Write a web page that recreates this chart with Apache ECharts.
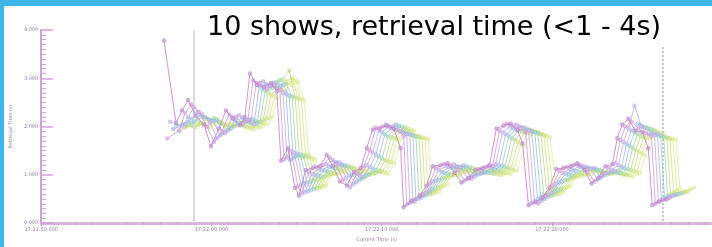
<!DOCTYPE html>
<html>
<head>
<meta charset="utf-8">
<script src="https://cdn.jsdelivr.net/npm/echarts@6/dist/echarts.min.js"></script>
<style>
html,body{margin:0;padding:0;}
#chart{width:712px;height:247px;background:linear-gradient(#fff,#fff) 4px 6px / 708px 241px no-repeat, #3db6ea;}
</style>
</head>
<body>
<div id="chart"></div>
<script>
const titleText = "10 shows, retrieval time (<1 - 4s)";
const xAxisName = "Current Time (s)";
const yAxisName = "Retrieval Time (s)";
const xTickLabels = ["17:21:50.000", "17:22:00.000", "17:22:10.000", "17:22:20.000"];
const yTickLabels = ["0.000", "1.000", "2.000", "3.000", "4.000"];
const markerTimes = [8.97, 36.48];

// base sample times (s) of the leading show
const times = [7.21,7.92,8.27,8.62,9.09,9.56,9.97,10.44,10.85,11.26,11.67,11.96,12.26,12.67,13.08,13.49,13.84,14.08,14.49,14.90,15.13,15.54,15.95,16.36,16.77,17.13,17.54,17.95,18.36,18.77,19.12,19.47,19.88,20.29,20.70,21.11,21.29,21.76,22.23,22.64,22.99,23.46,23.87,24.28,24.69,25.10,25.51,25.92,26.33,26.74,27.16,27.57,27.98,28.27,28.62,29.03,29.44,29.85,30.26,30.67,31.09,31.50,31.91,32.32,32.73,33.14,33.55,33.84,34.13,34.49,34.90,35.31,35.66,35.89,36.30,36.72];
// delay of each show (s)
const lags = [0,0.18,0.36,0.54,0.72,0.90,1.08,1.26,1.44,1.62];

const show1 = [3.78,2.08,2.33,2.55,2.22,2.04,1.59,1.96,2.33,2.16,2.02,2.20,3.10,2.86,2.82,2.90,2.73,1.29,1.55,0.73,0.57,1.10,1.14,1.18,1.41,1.18,0.86,0.78,1.06,1.14,1.55,1.94,1.96,2.02,1.96,1.55,0.33,0.47,0.57,0.78,1.18,1.20,1.24,1.04,0.84,0.94,1.10,1.14,1.20,1.96,2.02,2.06,1.92,1.65,0.37,0.43,0.53,0.73,1.12,1.14,1.18,1.24,1.10,0.82,0.94,1.18,1.22,1.76,2.04,2.16,1.92,1.88,1.55,0.37,0.45,0.49];
const show2 = [1.75,1.92,2.28,2.46,2.30,2.00,1.68,1.90,2.25,2.20,2.06,2.14,2.96,2.90,2.78,2.86,2.76,1.32,1.50,0.76,0.62,1.06,1.16,1.20,1.36,1.22,0.90,0.74,1.02,1.18,1.50,1.98,2.00,1.98,1.94,1.80,0.38,0.44,0.60,0.82,1.14,1.22,1.20,1.10,0.88,0.92,1.12,1.16,1.18,1.92,2.06,2.02,1.96,1.88,0.42,0.40,0.56,0.78,1.08,1.16,1.20,1.20,1.06,0.86,0.98,1.14,1.24,1.72,2.00,2.10,1.96,1.86,1.80,0.40,0.48,0.52];
const show3 = [2.10,2.00,2.20,2.40,2.26,2.08,1.75,1.86,2.18,2.24,2.10,2.08,2.90,2.94,2.84,2.80,2.70,1.36,1.46,0.80,0.64,1.02,1.12,1.22,1.30,1.26,0.94,0.80,0.98,1.20,1.46,1.92,2.04,2.00,1.90,1.84,0.42,0.50,0.62,0.86,1.10,1.18,1.22,1.16,0.92,0.96,1.08,1.18,1.22,1.88,2.00,2.04,1.98,1.92,0.46,0.46,0.58,0.82,1.04,1.12,1.22,1.18,1.12,0.90,1.02,1.10,1.20,1.68,1.96,2.43,2.00,1.84,1.82,0.44,0.50,0.56];
const show4 = [1.95,2.04,2.16,2.30,2.20,2.12,1.82,1.92,2.12,2.18,2.14,2.04,2.84,2.88,2.90,2.84,2.68,1.30,1.44,0.82,0.66,1.00,1.10,1.18,1.26,1.22,0.98,0.84,0.96,1.16,1.42,1.88,2.00,2.04,1.88,1.84,0.46,0.52,0.66,0.88,1.06,1.16,1.18,1.20,0.96,1.00,1.06,1.14,1.20,1.84,1.96,2.00,1.94,1.90,0.50,0.50,0.62,0.84,1.02,1.10,1.18,1.16,1.14,0.94,1.04,1.08,1.16,1.64,1.92,2.06,1.98,1.86,1.84,0.48,0.54,0.58];
const show5 = [2.02,2.10,2.10,2.24,2.16,2.14,1.88,1.96,2.08,2.12,2.16,2.06,2.78,2.84,2.92,2.86,2.64,1.34,1.42,0.84,0.68,0.98,1.08,1.16,1.22,1.20,1.00,0.88,0.98,1.12,1.38,1.84,1.96,2.02,1.86,1.82,0.50,0.56,0.70,0.90,1.04,1.14,1.16,1.18,1.00,1.02,1.04,1.12,1.18,1.80,1.94,1.98,1.92,1.88,0.54,0.54,0.66,0.86,1.00,1.08,1.16,1.14,1.12,0.98,1.06,1.06,1.14,1.60,1.88,2.02,1.96,1.84,1.82,0.52,0.56,0.60];
const show6 = [1.90,2.06,2.14,2.20,2.12,2.10,1.92,2.00,2.04,2.10,2.12,2.10,2.74,2.80,2.96,2.88,2.62,1.38,1.40,0.86,0.70,0.96,1.06,1.14,1.20,1.18,1.02,0.92,1.00,1.10,1.34,1.80,1.94,2.00,1.84,1.80,0.54,0.58,0.72,0.92,1.02,1.12,1.14,1.16,1.02,1.04,1.04,1.10,1.16,1.76,1.92,1.96,1.90,1.86,0.58,0.56,0.68,0.88,0.98,1.06,1.14,1.12,1.10,1.00,1.06,1.04,1.12,1.56,1.84,2.00,1.94,1.82,1.80,0.56,0.58,0.62];
const show7 = [2.06,1.98,2.08,2.16,2.18,2.06,1.96,2.04,2.00,2.06,2.10,2.14,2.70,2.86,2.98,3.16,2.60,1.40,1.38,0.88,0.72,0.96,1.04,1.12,1.18,1.16,1.04,0.96,1.02,1.08,1.30,1.78,1.92,1.98,1.82,1.80,0.58,0.60,0.74,0.94,1.00,1.10,1.12,1.14,1.04,1.06,1.02,1.08,1.14,1.72,1.90,1.94,1.88,1.84,0.62,0.58,0.70,0.90,0.98,1.04,1.12,1.10,1.08,1.02,1.04,1.02,1.10,1.52,1.80,1.98,1.92,1.80,1.78,0.60,0.60,0.64];
const show8 = [1.98,2.02,2.04,2.12,2.14,2.02,2.00,2.08,1.98,2.02,2.08,2.16,2.66,2.82,2.94,3.00,2.58,1.36,1.36,0.90,0.74,0.98,1.02,1.10,1.16,1.14,1.06,1.00,1.04,1.06,1.28,1.76,1.90,1.96,1.80,1.78,0.62,0.62,0.76,0.96,1.00,1.08,1.10,1.12,1.06,1.08,1.02,1.06,1.12,1.68,1.88,1.92,1.86,1.82,0.66,0.60,0.72,0.92,0.98,1.02,1.10,1.08,1.06,1.04,1.02,1.00,1.08,1.48,1.78,1.96,1.90,1.78,1.76,0.64,0.62,0.66];
const show9 = [2.04,2.08,2.00,2.08,2.10,2.04,2.02,2.10,1.96,2.00,2.06,2.18,2.62,2.78,2.90,2.96,2.56,1.42,1.34,0.92,0.76,1.00,1.02,1.08,1.14,1.12,1.08,1.02,1.06,1.04,1.26,1.74,1.88,1.94,1.78,1.76,0.66,0.64,0.78,0.98,1.00,1.06,1.08,1.10,1.08,1.08,1.00,1.04,1.10,1.64,1.86,1.90,1.84,1.80,0.70,0.62,0.74,0.94,0.98,1.02,1.08,1.06,1.04,1.06,1.00,0.98,1.06,1.44,1.76,1.94,1.88,1.76,1.74,0.68,0.64,0.70];
const show10 = [2.00,2.04,1.98,2.04,2.06,2.06,2.04,2.12,1.94,1.98,2.04,2.20,2.58,2.74,2.86,2.92,2.54,1.44,1.32,0.94,0.78,1.02,1.02,1.06,1.12,1.10,1.10,1.04,1.08,1.02,1.24,1.72,1.86,1.92,1.76,1.74,0.70,0.66,0.80,1.00,1.00,1.04,1.06,1.08,1.10,1.10,1.00,1.02,1.08,1.60,1.84,1.88,1.82,1.78,0.74,0.64,0.76,0.96,0.98,1.00,1.06,1.04,1.02,1.08,1.00,0.96,1.04,1.40,1.74,1.92,1.86,1.74,1.72,0.72,0.66,0.74];

const shows = [show1, show2, show3, show4, show5, show6, show7, show8, show9, show10];
const colors = ['#b578c4','#d090d8','#b8a8dc','#a0aee8','#8ec4d2','#9cd2aa','#b6d880','#c8e074','#d6e47e','#e2ea9a'];

const chart = echarts.init(document.getElementById('chart'), null, {renderer: 'canvas'});

const series = shows.map((ys, k) => ({
  type: 'line',
  name: 'Show ' + (k + 1),
  data: ys.map((y, i) => [+(times[i] + lags[k]).toFixed(2), y]),
  symbol: 'emptyCircle',
  symbolSize: 2.5,
  lineStyle: {width: 1, color: colors[k], opacity: 0.75},
  itemStyle: {color: colors[k], borderWidth: 1, opacity: 0.6},
  z: 10 - k,
  animation: false
}));

series[0].markLine = {
  silent: true,
  symbol: 'none',
  label: {show: false},
  animation: false,
  data: [
    {xAxis: markerTimes[0], lineStyle: {color: '#dcdcdc', width: 2, type: 'solid'}},
    [{coord: [markerTimes[1], 3.65], lineStyle: {color: '#b8b8b8', width: 1.5, type: [2, 2]}}, {coord: [markerTimes[1], 0]}]
  ]
};

chart.setOption({
  animation: false,
  backgroundColor: 'transparent',
  grid: {left: 40, right: 0, top: 30, bottom: 21, containLabel: false},
  xAxis: {
    type: 'value', min: 0, max: 39.4, interval: 10,
    name: xAxisName, nameLocation: 'middle', nameGap: 11,
    nameTextStyle: {fontSize: 5, color: '#9a7aa6', fontFamily: 'DejaVu Sans'},
    axisLine: {lineStyle: {color: '#dcb2e0', width: 3}},
    axisTick: {show: true, length: 3, lineStyle: {color: '#c898d0', width: 1}},
    minorTick: {show: true, splitNumber: 10, length: 2, lineStyle: {color: '#c898d0', width: 1}},
    splitLine: {show: false},
    axisLabel: {
      fontSize: 5, color: '#9a7aa6', margin: 4, fontFamily: 'DejaVu Sans',
      showMaxLabel: false,
      formatter: v => { const i = Math.round(v / 10); return (Math.abs(v - i * 10) < 1e-6 && xTickLabels[i]) ? xTickLabels[i] : ''; }
    }
  },
  yAxis: {
    type: 'value', min: 0, max: 4, interval: 1,
    name: yAxisName, nameLocation: 'middle', nameGap: 14, nameRotate: 90,
    nameTextStyle: {fontSize: 5, color: '#9a7aa6', fontFamily: 'DejaVu Sans'},
    axisLine: {show: true, lineStyle: {color: '#d0a0d8', width: 2}},
    axisTick: {show: true, inside: true, length: 12, lineStyle: {color: '#d0a0d8', width: 1.5}},
    minorTick: {show: true, splitNumber: 10, length: 5, lineStyle: {color: '#d0a8d8', width: 1}},
    splitLine: {show: false},
    axisLabel: {
      fontSize: 5, color: '#9a7aa6', margin: 3, fontFamily: 'DejaVu Sans',
      formatter: v => yTickLabels[Math.round(v)] || ''
    }
  },
  graphic: [{
    type: 'text', left: 207, top: 14, z: 100,
    style: {text: titleText, font: '27px "DejaVu Sans"', fill: '#000'}
  }],
  series: series
});
</script>
</body>
</html>
